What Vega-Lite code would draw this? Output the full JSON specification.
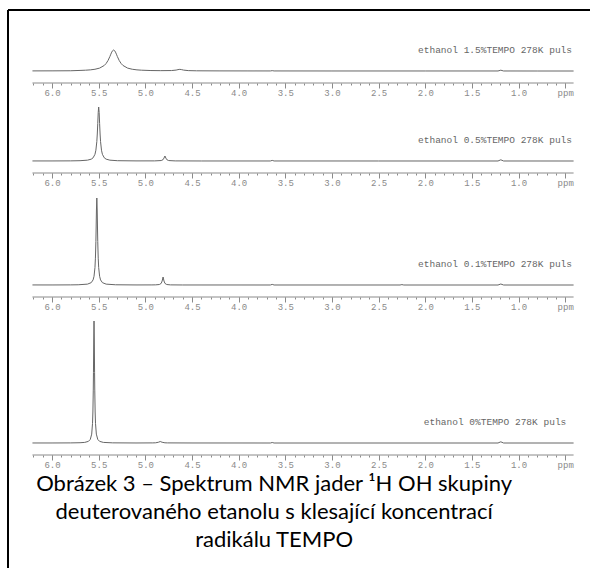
{
  "$schema": "https://vega.github.io/schema/vega-lite/v6.json",
  "padding": {"left": 7, "top": 9, "right": 0, "bottom": 0},
  "spacing": 0,
  "bounds": "flush",
  "background": "white",
  "config": {"view": {"stroke": null}, "axis": {"labelOverlap": false, "labelFlush": false, "labelBound": false}},
  "datasets": {
    "labels": [
      {"id": "a", "label": "ethanol 1.5%TEMPO 278K puls"},
      {"id": "b", "label": "ethanol 0.5%TEMPO 278K puls"},
      {"id": "c", "label": "ethanol 0.1%TEMPO 278K puls"},
      {"id": "d", "label": "ethanol 0%TEMPO 278K puls"}
    ],
    "caption": [
      {"caption": "Obrázek 3 – Spektrum NMR jader ¹H OH skupiny\ndeuterovaného etanolu s klesající koncentrací\nradikálu TEMPO"}
    ],
    "s15": [
      {"ppm": 6.21, "i": 0.1}, {"ppm": 6.0, "i": 0.15}, {"ppm": 5.8, "i": 0.25}, {"ppm": 5.7, "i": 0.57},
      {"ppm": 5.64, "i": 0.81}, {"ppm": 5.59, "i": 1.14}, {"ppm": 5.54, "i": 1.74}, {"ppm": 5.49, "i": 2.9},
      {"ppm": 5.44, "i": 5.56}, {"ppm": 5.42, "i": 7.56}, {"ppm": 5.40, "i": 10.5}, {"ppm": 5.38, "i": 14.5},
      {"ppm": 5.37, "i": 16.8}, {"ppm": 5.36, "i": 18.9}, {"ppm": 5.35, "i": 20.4}, {"ppm": 5.34, "i": 21},
      {"ppm": 5.33, "i": 20.4}, {"ppm": 5.32, "i": 18.9}, {"ppm": 5.31, "i": 16.8}, {"ppm": 5.30, "i": 14.5},
      {"ppm": 5.28, "i": 10.5}, {"ppm": 5.26, "i": 7.56}, {"ppm": 5.24, "i": 5.56}, {"ppm": 5.19, "i": 2.9},
      {"ppm": 5.14, "i": 1.74}, {"ppm": 5.09, "i": 1.14}, {"ppm": 5.04, "i": 0.81}, {"ppm": 4.94, "i": 0.46},
      {"ppm": 4.84, "i": 0.35}, {"ppm": 4.72, "i": 0.44}, {"ppm": 4.67, "i": 0.92}, {"ppm": 4.65, "i": 1.36},
      {"ppm": 4.63, "i": 1.66}, {"ppm": 4.61, "i": 1.35}, {"ppm": 4.59, "i": 0.9}, {"ppm": 4.54, "i": 0.4},
      {"ppm": 4.45, "i": 0.2}, {"ppm": 4.2, "i": 0.1}, {"ppm": 3.9, "i": 0.07}, {"ppm": 3.66, "i": 0.05},
      {"ppm": 3.64, "i": 0.35}, {"ppm": 3.62, "i": 0.05}, {"ppm": 3.0, "i": 0.03}, {"ppm": 2.0, "i": 0.02},
      {"ppm": 1.22, "i": 0.02}, {"ppm": 1.19, "i": 0.8}, {"ppm": 1.16, "i": 0.02}, {"ppm": 0.8, "i": 0},
      {"ppm": 0.41, "i": 0}
    ],
    "s05": [
      {"ppm": 6.21, "i": 0.05}, {"ppm": 6.0, "i": 0.06}, {"ppm": 5.8, "i": 0.13}, {"ppm": 5.7, "i": 0.3},
      {"ppm": 5.62, "i": 0.83}, {"ppm": 5.58, "i": 1.84}, {"ppm": 5.56, "i": 3.18}, {"ppm": 5.54, "i": 6.66},
      {"ppm": 5.53, "i": 10.8}, {"ppm": 5.52, "i": 19.4}, {"ppm": 5.515, "i": 27}, {"ppm": 5.51, "i": 37.4},
      {"ppm": 5.505, "i": 48.6}, {"ppm": 5.50, "i": 54}, {"ppm": 5.495, "i": 48.6}, {"ppm": 5.49, "i": 37.4},
      {"ppm": 5.485, "i": 27}, {"ppm": 5.48, "i": 19.4}, {"ppm": 5.47, "i": 10.8}, {"ppm": 5.46, "i": 6.66},
      {"ppm": 5.44, "i": 3.18}, {"ppm": 5.42, "i": 1.84}, {"ppm": 5.38, "i": 0.83}, {"ppm": 5.3, "i": 0.3},
      {"ppm": 5.1, "i": 0.1}, {"ppm": 4.9, "i": 0.11}, {"ppm": 4.83, "i": 0.45}, {"ppm": 4.81, "i": 1.35},
      {"ppm": 4.80, "i": 2.95}, {"ppm": 4.79, "i": 5}, {"ppm": 4.78, "i": 2.95}, {"ppm": 4.77, "i": 1.35},
      {"ppm": 4.75, "i": 0.45}, {"ppm": 4.68, "i": 0.1}, {"ppm": 4.4, "i": 0.03}, {"ppm": 3.66, "i": 0.02},
      {"ppm": 3.64, "i": 0.6}, {"ppm": 3.62, "i": 0.02}, {"ppm": 2.5, "i": 0.01}, {"ppm": 1.22, "i": 0.01},
      {"ppm": 1.19, "i": 1.2}, {"ppm": 1.16, "i": 0.01}, {"ppm": 0.41, "i": 0}
    ],
    "s01": [
      {"ppm": 6.21, "i": 0.05}, {"ppm": 6.0, "i": 0.04}, {"ppm": 5.8, "i": 0.11}, {"ppm": 5.72, "i": 0.22},
      {"ppm": 5.62, "i": 0.86}, {"ppm": 5.58, "i": 2.35}, {"ppm": 5.56, "i": 5.1}, {"ppm": 5.55, "i": 8.7},
      {"ppm": 5.54, "i": 17.4}, {"ppm": 5.535, "i": 26.8}, {"ppm": 5.53, "i": 43.5}, {"ppm": 5.528, "i": 53},
      {"ppm": 5.524, "i": 75}, {"ppm": 5.52, "i": 87}, {"ppm": 5.516, "i": 75}, {"ppm": 5.512, "i": 53},
      {"ppm": 5.51, "i": 43.5}, {"ppm": 5.505, "i": 26.8}, {"ppm": 5.50, "i": 17.4}, {"ppm": 5.49, "i": 8.7},
      {"ppm": 5.48, "i": 5.1}, {"ppm": 5.46, "i": 2.35}, {"ppm": 5.42, "i": 0.86}, {"ppm": 5.32, "i": 0.22},
      {"ppm": 5.1, "i": 0.06}, {"ppm": 4.93, "i": 0.09}, {"ppm": 4.89, "i": 0.15}, {"ppm": 4.85, "i": 0.47},
      {"ppm": 4.83, "i": 1.6}, {"ppm": 4.82, "i": 4}, {"ppm": 4.81, "i": 8}, {"ppm": 4.80, "i": 4},
      {"ppm": 4.79, "i": 1.6}, {"ppm": 4.77, "i": 0.47}, {"ppm": 4.73, "i": 0.12}, {"ppm": 4.6, "i": 0.03},
      {"ppm": 3.66, "i": 0.01}, {"ppm": 3.64, "i": 0.6}, {"ppm": 3.62, "i": 0.01}, {"ppm": 2.27, "i": 0},
      {"ppm": 2.25, "i": 0.4}, {"ppm": 2.23, "i": 0}, {"ppm": 1.22, "i": 0}, {"ppm": 1.19, "i": 1.0},
      {"ppm": 1.16, "i": 0}, {"ppm": 0.41, "i": 0}
    ],
    "s00": [
      {"ppm": 6.21, "i": 0.02}, {"ppm": 6.0, "i": 0.03}, {"ppm": 5.8, "i": 0.1}, {"ppm": 5.7, "i": 0.27},
      {"ppm": 5.65, "i": 0.6}, {"ppm": 5.61, "i": 1.64}, {"ppm": 5.59, "i": 3.6}, {"ppm": 5.575, "i": 8.87},
      {"ppm": 5.566, "i": 19.6}, {"ppm": 5.562, "i": 31}, {"ppm": 5.558, "i": 52.9}, {"ppm": 5.556, "i": 70.3},
      {"ppm": 5.553, "i": 103}, {"ppm": 5.55, "i": 122}, {"ppm": 5.547, "i": 103}, {"ppm": 5.544, "i": 70.3},
      {"ppm": 5.542, "i": 52.9}, {"ppm": 5.538, "i": 31}, {"ppm": 5.534, "i": 19.6}, {"ppm": 5.525, "i": 8.87},
      {"ppm": 5.51, "i": 3.6}, {"ppm": 5.49, "i": 1.64}, {"ppm": 5.45, "i": 0.6}, {"ppm": 5.35, "i": 0.15},
      {"ppm": 5.1, "i": 0.03}, {"ppm": 4.92, "i": 0.1}, {"ppm": 4.89, "i": 0.2}, {"ppm": 4.86, "i": 0.75},
      {"ppm": 4.84, "i": 1.5}, {"ppm": 4.82, "i": 0.75}, {"ppm": 4.79, "i": 0.2}, {"ppm": 4.76, "i": 0.1},
      {"ppm": 4.5, "i": 0.02}, {"ppm": 3.66, "i": 0}, {"ppm": 3.64, "i": 0.5}, {"ppm": 3.62, "i": 0},
      {"ppm": 1.22, "i": 0}, {"ppm": 1.19, "i": 1.2}, {"ppm": 1.16, "i": 0}, {"ppm": 0.41, "i": 0}
    ]
  },
  "vconcat": [
    {
      "width": 582, "height": 73,
      "resolve": {"axis": {"x": "independent"}},
      "layer": [
        {
          "data": {"name": "labels"}, "transform": [{"filter": "datum.id == 'a'"}],
          "mark": {"type": "rule", "color": "black", "strokeWidth": 2},
          "encoding": {
            "x": {"datum": 6.472, "type": "quantitative", "scale": {"domain": [0.234, 6.472], "reverse": true, "nice": false, "zero": false}, "axis": null},
            "y": {"datum": -12, "type": "quantitative", "scale": {"domain": [-12, 61], "nice": false, "zero": false}, "axis": null},
            "y2": {"datum": 61}
          }
        },
        {
          "data": {"name": "labels"}, "transform": [{"filter": "datum.id == 'a'"}],
          "mark": {"type": "rule", "color": "black", "strokeWidth": 2},
          "encoding": {
            "x": {"datum": 6.472, "type": "quantitative", "scale": {"domain": [0.234, 6.472], "reverse": true, "nice": false, "zero": false}, "axis": null},
            "x2": {"datum": 0.1},
            "y": {"datum": 61, "type": "quantitative", "scale": {"domain": [-12, 61], "nice": false, "zero": false}, "axis": null}
          }
        },
        {
          "data": {"name": "labels"}, "transform": [{"filter": "datum.id == 'a'"}],
          "mark": {"type": "rule", "color": "#8a8a8a", "strokeWidth": 1},
          "encoding": {
            "x": {"datum": 6.21, "type": "quantitative", "scale": {"domain": [0.234, 6.472], "reverse": true, "nice": false, "zero": false},
              "axis": {"orient": "bottom", "values": [6.2,6.1,6.0,5.9,5.8,5.7,5.6,5.5,5.4,5.3,5.2,5.1,5.0,4.9,4.8,4.7,4.6,4.5,4.4,4.3,4.2,4.1,4.0,3.9,3.8,3.7,3.6,3.5,3.4,3.3,3.2,3.1,3.0,2.9,2.8,2.7,2.6,2.5,2.4,2.3,2.2,2.1,2.0,1.9,1.8,1.7,1.6,1.5,1.4,1.3,1.2,1.1,1.0,0.9,0.8,0.7,0.6,0.5],
                "domain": false, "grid": false, "title": null, "labels": false, "tickColor": "#8a8a8a", "tickSize": 2}},
            "x2": {"datum": 0.41},
            "y": {"datum": -12, "type": "quantitative", "scale": {"domain": [-12, 61], "nice": false, "zero": false}, "axis": null}
          }
        },
        {
          "data": {"name": "s15"},
          "mark": {"type": "line", "color": "#666666", "strokeWidth": 1},
          "encoding": {
            "x": {"field": "ppm", "type": "quantitative", "scale": {"domain": [0.234, 6.472], "reverse": true, "nice": false, "zero": false},
              "axis": {"orient": "bottom", "values": [6.0,5.5,5.0,4.5,4.0,3.5,3.0,2.5,2.0,1.5,1.0,0.5],
                "domain": false, "grid": false, "title": null, "tickColor": "#8a8a8a", "tickSize": 5,
                "labelExpr": "datum.value < 0.7 ? 'ppm' : format(datum.value, '.1f')",
                "labelFont": "Liberation Mono", "labelFontSize": 9, "labelColor": "#8a8a8a", "labelPadding": 0}},
            "y": {"field": "i", "type": "quantitative", "scale": {"domain": [-12, 61], "nice": false, "zero": false}, "axis": null}
          }
        },
        {
          "data": {"name": "labels"}, "transform": [{"filter": "datum.id == 'a'"}],
          "mark": {"type": "text", "font": "Liberation Mono", "fontSize": 9.5, "color": "#666666", "align": "center", "baseline": "middle"},
          "encoding": {
            "x": {"datum": 1.252, "type": "quantitative", "scale": {"domain": [0.234, 6.472], "reverse": true, "nice": false, "zero": false}, "axis": null},
            "y": {"datum": 21, "type": "quantitative", "scale": {"domain": [-12, 61], "nice": false, "zero": false}, "axis": null},
            "text": {"field": "label"}
          }
        }
      ]
    },
    {
      "width": 582, "height": 90,
      "resolve": {"axis": {"x": "independent"}},
      "layer": [
        {
          "data": {"name": "labels"}, "transform": [{"filter": "datum.id == 'b'"}],
          "mark": {"type": "rule", "color": "black", "strokeWidth": 2},
          "encoding": {
            "x": {"datum": 6.472, "type": "quantitative", "scale": {"domain": [0.234, 6.472], "reverse": true, "nice": false, "zero": false}, "axis": null},
            "y": {"datum": -12, "type": "quantitative", "scale": {"domain": [-12, 78], "nice": false, "zero": false}, "axis": null},
            "y2": {"datum": 78}
          }
        },
        {
          "data": {"name": "labels"}, "transform": [{"filter": "datum.id == 'b'"}],
          "mark": {"type": "rule", "color": "#8a8a8a", "strokeWidth": 1},
          "encoding": {
            "x": {"datum": 6.21, "type": "quantitative", "scale": {"domain": [0.234, 6.472], "reverse": true, "nice": false, "zero": false},
              "axis": {"orient": "bottom", "values": [6.2,6.1,6.0,5.9,5.8,5.7,5.6,5.5,5.4,5.3,5.2,5.1,5.0,4.9,4.8,4.7,4.6,4.5,4.4,4.3,4.2,4.1,4.0,3.9,3.8,3.7,3.6,3.5,3.4,3.3,3.2,3.1,3.0,2.9,2.8,2.7,2.6,2.5,2.4,2.3,2.2,2.1,2.0,1.9,1.8,1.7,1.6,1.5,1.4,1.3,1.2,1.1,1.0,0.9,0.8,0.7,0.6,0.5],
                "domain": false, "grid": false, "title": null, "labels": false, "tickColor": "#8a8a8a", "tickSize": 2}},
            "x2": {"datum": 0.41},
            "y": {"datum": -12, "type": "quantitative", "scale": {"domain": [-12, 78], "nice": false, "zero": false}, "axis": null}
          }
        },
        {
          "data": {"name": "s05"},
          "mark": {"type": "line", "color": "#666666", "strokeWidth": 1},
          "encoding": {
            "x": {"field": "ppm", "type": "quantitative", "scale": {"domain": [0.234, 6.472], "reverse": true, "nice": false, "zero": false},
              "axis": {"orient": "bottom", "values": [6.0,5.5,5.0,4.5,4.0,3.5,3.0,2.5,2.0,1.5,1.0,0.5],
                "domain": false, "grid": false, "title": null, "tickColor": "#8a8a8a", "tickSize": 5,
                "labelExpr": "datum.value < 0.7 ? 'ppm' : format(datum.value, '.1f')",
                "labelFont": "Liberation Mono", "labelFontSize": 9, "labelColor": "#8a8a8a", "labelPadding": 0}},
            "y": {"field": "i", "type": "quantitative", "scale": {"domain": [-12, 78], "nice": false, "zero": false}, "axis": null}
          }
        },
        {
          "data": {"name": "labels"}, "transform": [{"filter": "datum.id == 'b'"}],
          "mark": {"type": "text", "font": "Liberation Mono", "fontSize": 9.5, "color": "#666666", "align": "center", "baseline": "middle"},
          "encoding": {
            "x": {"datum": 1.252, "type": "quantitative", "scale": {"domain": [0.234, 6.472], "reverse": true, "nice": false, "zero": false}, "axis": null},
            "y": {"datum": 21, "type": "quantitative", "scale": {"domain": [-12, 78], "nice": false, "zero": false}, "axis": null},
            "text": {"field": "label"}
          }
        }
      ]
    },
    {
      "width": 582, "height": 124,
      "resolve": {"axis": {"x": "independent"}},
      "layer": [
        {
          "data": {"name": "labels"}, "transform": [{"filter": "datum.id == 'c'"}],
          "mark": {"type": "rule", "color": "black", "strokeWidth": 2},
          "encoding": {
            "x": {"datum": 6.472, "type": "quantitative", "scale": {"domain": [0.234, 6.472], "reverse": true, "nice": false, "zero": false}, "axis": null},
            "y": {"datum": -12, "type": "quantitative", "scale": {"domain": [-12, 112], "nice": false, "zero": false}, "axis": null},
            "y2": {"datum": 112}
          }
        },
        {
          "data": {"name": "labels"}, "transform": [{"filter": "datum.id == 'c'"}],
          "mark": {"type": "rule", "color": "#8a8a8a", "strokeWidth": 1},
          "encoding": {
            "x": {"datum": 6.21, "type": "quantitative", "scale": {"domain": [0.234, 6.472], "reverse": true, "nice": false, "zero": false},
              "axis": {"orient": "bottom", "values": [6.2,6.1,6.0,5.9,5.8,5.7,5.6,5.5,5.4,5.3,5.2,5.1,5.0,4.9,4.8,4.7,4.6,4.5,4.4,4.3,4.2,4.1,4.0,3.9,3.8,3.7,3.6,3.5,3.4,3.3,3.2,3.1,3.0,2.9,2.8,2.7,2.6,2.5,2.4,2.3,2.2,2.1,2.0,1.9,1.8,1.7,1.6,1.5,1.4,1.3,1.2,1.1,1.0,0.9,0.8,0.7,0.6,0.5],
                "domain": false, "grid": false, "title": null, "labels": false, "tickColor": "#8a8a8a", "tickSize": 2}},
            "x2": {"datum": 0.41},
            "y": {"datum": -12, "type": "quantitative", "scale": {"domain": [-12, 112], "nice": false, "zero": false}, "axis": null}
          }
        },
        {
          "data": {"name": "s01"},
          "mark": {"type": "line", "color": "#666666", "strokeWidth": 1},
          "encoding": {
            "x": {"field": "ppm", "type": "quantitative", "scale": {"domain": [0.234, 6.472], "reverse": true, "nice": false, "zero": false},
              "axis": {"orient": "bottom", "values": [6.0,5.5,5.0,4.5,4.0,3.5,3.0,2.5,2.0,1.5,1.0,0.5],
                "domain": false, "grid": false, "title": null, "tickColor": "#8a8a8a", "tickSize": 5,
                "labelExpr": "datum.value < 0.7 ? 'ppm' : format(datum.value, '.1f')",
                "labelFont": "Liberation Mono", "labelFontSize": 9, "labelColor": "#8a8a8a", "labelPadding": 0}},
            "y": {"field": "i", "type": "quantitative", "scale": {"domain": [-12, 112], "nice": false, "zero": false}, "axis": null}
          }
        },
        {
          "data": {"name": "labels"}, "transform": [{"filter": "datum.id == 'c'"}],
          "mark": {"type": "text", "font": "Liberation Mono", "fontSize": 9.5, "color": "#666666", "align": "center", "baseline": "middle"},
          "encoding": {
            "x": {"datum": 1.252, "type": "quantitative", "scale": {"domain": [0.234, 6.472], "reverse": true, "nice": false, "zero": false}, "axis": null},
            "y": {"datum": 21, "type": "quantitative", "scale": {"domain": [-12, 112], "nice": false, "zero": false}, "axis": null},
            "text": {"field": "label"}
          }
        }
      ]
    },
    {
      "width": 582, "height": 158,
      "resolve": {"axis": {"x": "independent"}},
      "layer": [
        {
          "data": {"name": "labels"}, "transform": [{"filter": "datum.id == 'd'"}],
          "mark": {"type": "rule", "color": "black", "strokeWidth": 2},
          "encoding": {
            "x": {"datum": 6.472, "type": "quantitative", "scale": {"domain": [0.234, 6.472], "reverse": true, "nice": false, "zero": false}, "axis": null},
            "y": {"datum": -12, "type": "quantitative", "scale": {"domain": [-12, 146], "nice": false, "zero": false}, "axis": null},
            "y2": {"datum": 146}
          }
        },
        {
          "data": {"name": "labels"}, "transform": [{"filter": "datum.id == 'd'"}],
          "mark": {"type": "rule", "color": "#8a8a8a", "strokeWidth": 1},
          "encoding": {
            "x": {"datum": 6.21, "type": "quantitative", "scale": {"domain": [0.234, 6.472], "reverse": true, "nice": false, "zero": false},
              "axis": {"orient": "bottom", "values": [6.2,6.1,6.0,5.9,5.8,5.7,5.6,5.5,5.4,5.3,5.2,5.1,5.0,4.9,4.8,4.7,4.6,4.5,4.4,4.3,4.2,4.1,4.0,3.9,3.8,3.7,3.6,3.5,3.4,3.3,3.2,3.1,3.0,2.9,2.8,2.7,2.6,2.5,2.4,2.3,2.2,2.1,2.0,1.9,1.8,1.7,1.6,1.5,1.4,1.3,1.2,1.1,1.0,0.9,0.8,0.7,0.6,0.5],
                "domain": false, "grid": false, "title": null, "labels": false, "tickColor": "#8a8a8a", "tickSize": 2}},
            "x2": {"datum": 0.41},
            "y": {"datum": -12, "type": "quantitative", "scale": {"domain": [-12, 146], "nice": false, "zero": false}, "axis": null}
          }
        },
        {
          "data": {"name": "s00"},
          "mark": {"type": "line", "color": "#666666", "strokeWidth": 1},
          "encoding": {
            "x": {"field": "ppm", "type": "quantitative", "scale": {"domain": [0.234, 6.472], "reverse": true, "nice": false, "zero": false},
              "axis": {"orient": "bottom", "values": [6.0,5.5,5.0,4.5,4.0,3.5,3.0,2.5,2.0,1.5,1.0,0.5],
                "domain": false, "grid": false, "title": null, "tickColor": "#8a8a8a", "tickSize": 5,
                "labelExpr": "datum.value < 0.7 ? 'ppm' : format(datum.value, '.1f')",
                "labelFont": "Liberation Mono", "labelFontSize": 9, "labelColor": "#8a8a8a", "labelPadding": 0}},
            "y": {"field": "i", "type": "quantitative", "scale": {"domain": [-12, 146], "nice": false, "zero": false}, "axis": null}
          }
        },
        {
          "data": {"name": "labels"}, "transform": [{"filter": "datum.id == 'd'"}],
          "mark": {"type": "text", "font": "Liberation Mono", "fontSize": 9.5, "color": "#666666", "align": "center", "baseline": "middle"},
          "encoding": {
            "x": {"datum": 1.252, "type": "quantitative", "scale": {"domain": [0.234, 6.472], "reverse": true, "nice": false, "zero": false}, "axis": null},
            "y": {"datum": 21, "type": "quantitative", "scale": {"domain": [-12, 146], "nice": false, "zero": false}, "axis": null},
            "text": {"field": "label"}
          }
        }
      ]
    },
    {
      "width": 582, "height": 113,
      "data": {"name": "caption"},
      "layer": [
        {
          "mark": {"type": "rule", "color": "black", "strokeWidth": 2},
          "encoding": {
            "x": {"datum": 6.472, "type": "quantitative", "scale": {"domain": [0.234, 6.472], "reverse": true, "nice": false, "zero": false}, "axis": null},
            "y": {"datum": 0, "type": "quantitative", "scale": {"domain": [0, 113], "reverse": true, "nice": false, "zero": false}, "axis": null},
            "y2": {"datum": 125}
          }
        },
        {
          "mark": {"type": "text", "font": "Lato", "fontSize": 22, "lineHeight": 28, "lineBreak": "\n", "color": "black", "align": "center", "baseline": "alphabetic"},
          "encoding": {
            "x": {"datum": 3.62, "type": "quantitative", "scale": {"domain": [0.234, 6.472], "reverse": true, "nice": false, "zero": false}, "axis": null},
            "y": {"datum": 36, "type": "quantitative", "scale": {"domain": [0, 113], "reverse": true, "nice": false, "zero": false}, "axis": null},
            "text": {"field": "caption"}
          }
        }
      ]
    }
  ]
}
